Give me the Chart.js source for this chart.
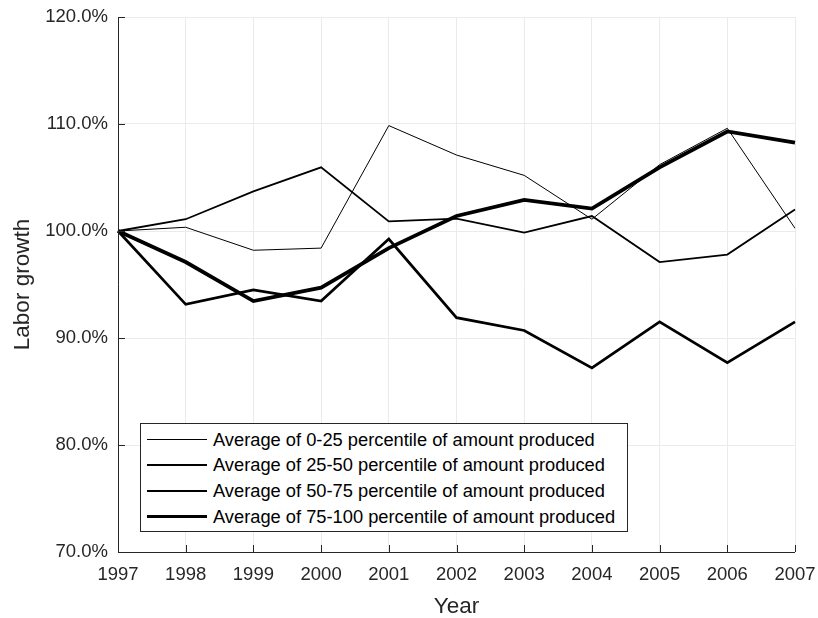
<!DOCTYPE html>
<html>
<head>
<meta charset="utf-8">
<script src="https://cdn.jsdelivr.net/npm/chart.js@4.4.0/dist/chart.umd.min.js"></script>
<style>
html,body{margin:0;padding:0;background:#fff;}
#wrap{position:relative;width:818px;height:618px;}
#legend{position:absolute;width:488px;height:109px;background:#fff;border:1px solid #262626;box-sizing:border-box;font-family:"Liberation Sans",Arial,sans-serif;font-size:18.3px;color:#000;padding:3px 6px 2px 6px;}
.row{display:flex;align-items:center;height:25.6px;white-space:nowrap;}
.sw{width:60px;margin-right:6px;background:#000;flex:none;}
</style>
</head>
<body>
<div id="wrap">
<canvas id="c" width="818" height="618"></canvas>
<div id="legend"></div>
</div>
<script>
const years = ['1997','1998','1999','2000','2001','2002','2003','2004','2005','2006','2007'];
const yTicks = [70, 80, 90, 100, 110, 120];
const seriesNames = [
  'Average of 0-25 percentile of amount produced',
  'Average of 25-50 percentile of amount produced',
  'Average of 50-75 percentile of amount produced',
  'Average of 75-100 percentile of amount produced'
];
const p0_25   = [100, 100.35, 98.2, 98.4, 109.85, 107.1, 105.2, 101.1, 106.2, 109.6, 100.25];
const p25_50  = [100, 101.1, 103.7, 105.95, 100.9, 101.15, 99.85, 101.4, 97.1, 97.8, 102.0];
const p50_75  = [100, 93.15, 94.5, 93.45, 99.25, 91.9, 90.7, 87.2, 91.5, 87.7, 91.5];
const p75_100 = [100, 97.1, 93.45, 94.7, 98.4, 101.4, 102.9, 102.1, 105.95, 109.3, 108.25];

const widths = [1, 1.8, 2.7, 3.8];
const allData = [p0_25, p25_50, p50_75, p75_100];
const FONT = '"Liberation Sans", Arial, sans-serif';
const AX = '#262626';

const innerTicks = {
  id: 'innerTicks',
  afterDraw(chart) {
    const ctx = chart.ctx, a = chart.chartArea;
    const xs = chart.scales.x, ys = chart.scales.y;
    ctx.save();
    ctx.strokeStyle = AX;
    ctx.lineWidth = 1;
    ctx.beginPath();
    ctx.moveTo(a.left + 0.5, a.top);
    ctx.lineTo(a.left + 0.5, a.bottom + 0.5);
    ctx.lineTo(a.right, a.bottom + 0.5);
    ys.ticks.forEach((t, i) => {
      const y = Math.round(ys.getPixelForTick(i)) + 0.5;
      ctx.moveTo(a.left, y); ctx.lineTo(a.left + 7, y);
    });
    xs.ticks.forEach((t, i) => {
      const x = Math.round(xs.getPixelForTick(i)) + 0.5;
      ctx.moveTo(x, a.bottom); ctx.lineTo(x, a.bottom - 7);
    });
    ctx.stroke();
    ctx.restore();
  },
  afterRender(chart) {
    const lg = document.getElementById('legend');
    const a = chart.chartArea;
    lg.style.left = (a.left + 22) + 'px';
    lg.style.top = (a.top + 406) + 'px';
  }
};

const ctx = document.getElementById('c').getContext('2d');
new Chart(ctx, {
  type: 'line',
  data: {
    labels: years,
    datasets: allData.map((d, i) => ({
      label: seriesNames[i],
      data: d,
      borderColor: '#000',
      backgroundColor: '#000',
      borderWidth: widths[i],
      pointRadius: 0,
      tension: 0,
      fill: false
    }))
  },
  options: {
    responsive: false,
    animation: false,
    layout: { padding: { left: 0, right: 23, top: 17, bottom: 0 } },
    plugins: { legend: { display: false }, tooltip: { enabled: false } },
    scales: {
      x: {
        type: 'category',
        offset: false,
        grid: { color: '#ebebeb', drawTicks: false, drawOnChartArea: true },
        border: { display: false },
        ticks: { color: AX, font: { family: FONT, size: 18.5 }, padding: 12, maxRotation: 0, autoSkip: false },
        title: { display: true, text: 'Year', color: AX, font: { family: FONT, size: 22.5 }, padding: { top: 0, bottom: -2 } },
        afterFit(s) { s.height = 66; s.paddingLeft = 0; s.paddingRight = 0; }
      },
      y: {
        min: 70, max: 120,
        afterBuildTicks(s) { s.ticks = yTicks.map(v => ({ value: v })); },
        grid: { color: '#ebebeb', drawTicks: false },
        border: { display: false },
        ticks: { color: AX, font: { family: FONT, size: 18.5 }, padding: 10, callback: v => v.toFixed(1) + '%' },
        title: { display: true, text: 'Labor growth', color: AX, font: { family: FONT, size: 22.5 }, padding: { top: 9, bottom: 0 } },
        afterFit(s) { s.width = 118; s.paddingTop = 0; s.paddingBottom = 0; }
      }
    }
  },
  plugins: [innerTicks]
});

const lg = document.getElementById('legend');
seriesNames.forEach((n, i) => {
  const r = document.createElement('div');
  r.className = 'row';
  const sw = document.createElement('span');
  sw.className = 'sw';
  sw.style.height = widths[i] + 'px';
  const tx = document.createElement('span');
  tx.textContent = n;
  r.appendChild(sw); r.appendChild(tx);
  lg.appendChild(r);
});
</script>
</body>
</html>
